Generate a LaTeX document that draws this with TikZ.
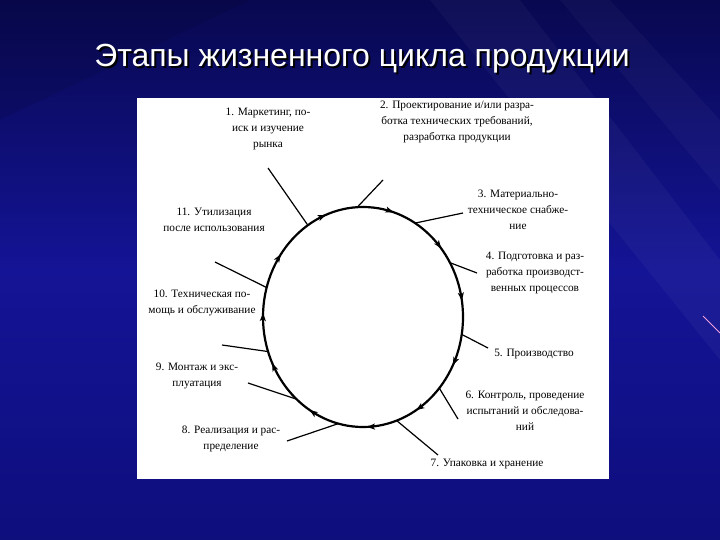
\documentclass[tikz,border=0pt]{standalone}
\usepackage{fontspec}
\setmainfont{Liberation Serif}
\newfontfamily\titlefont{Liberation Sans}
\usetikzlibrary{shapes.geometric,decorations.markings,arrows.meta}
\definecolor{bgtop}{RGB}{8,8,80}
\definecolor{bgmid}{RGB}{20,20,150}
\definecolor{bgbot}{RGB}{14,14,125}
\definecolor{pinkline}{RGB}{240,160,220}
\tikzset{cyctip/.tip={Stealth[length=8pt,width=6pt,inset=2pt]}}
\begin{document}
\begin{tikzpicture}[x=1pt,y=-1pt,
  lbl/.style={align=center,font=\fontsize{11.3}{16}\selectfont,text=black,inner sep=0pt},
  spoke/.style={draw=black,line width=1.2pt},
  cycline/.style={draw=black,line width=2.2pt,postaction={decorate},
    decoration={markings,
      mark=at position 0.075 with {\arrow{cyctip}},
      mark=at position 0.164 with {\arrow{cyctip}},
      mark=at position 0.244 with {\arrow{cyctip}},
      mark=at position 0.336 with {\arrow{cyctip}},
      mark=at position 0.428 with {\arrow{cyctip}},
      mark=at position 0.506 with {\arrow{cyctip}},
      mark=at position 0.600 with {\arrow{cyctip}},
      mark=at position 0.692 with {\arrow{cyctip}},
      mark=at position 0.797 with {\arrow{cyctip}},
      mark=at position 0.889 with {\arrow{cyctip}},
      mark=at position 0.975 with {\arrow{cyctip}}}},
  titletext/.style={font=\titlefont\fontsize{32}{36}\selectfont,inner sep=0pt}]
\useasboundingbox (0,0) rectangle (720,540);
% background
\shade[top color=bgtop,bottom color=bgbot,middle color=bgmid] (0,0) rectangle (720,540);
\fill[white,opacity=0.035] (430,0) -- (520,0) -- (720,260) -- (720,360) -- cycle;
\fill[white,opacity=0.03] (560,0) -- (610,0) -- (720,120) -- (720,190) -- cycle;
\fill[black,opacity=0.08] (0,0) -- (250,0) -- (0,120) -- cycle;
\draw[pinkline,line width=1pt] (703,316) -- (720,333);
% title
\node[titletext,text=black] (titleshadow) at (364,61) {Этапы жизненного цикла продукции};
\node[titletext,text=white] (title) at (362,59) {Этапы жизненного цикла продукции};
% panel
\fill[white] (137,98) rectangle (609,479);
% cycle
\node[ellipse,minimum width=200pt,minimum height=220pt,inner sep=0pt,outer sep=0pt] (cyc) at (363,317) {};
\path[cycline] (363,317) ellipse [x radius=100, y radius=110];
% labels
\node[lbl] (l1) at (268,129) {1. Маркетинг, по-\\иск и изучение\\рынка};
\node[lbl] (l2) at (457,122) {2. Проектирование и/или разра-\\ботка технических требований,\\разработка продукции};
\node[lbl] (l3) at (518,210) {3. Материально-\\техническое снабже-\\ние};
\node[lbl] (l4) at (535,273) {4. Подготовка и раз-\\работка производст-\\венных процессов};
\node[lbl] (l5) at (534,354) {5. Производство};
\node[lbl] (l6) at (525,411) {6. Контроль, проведение\\испытаний и обследова-\\ний};
\node[lbl] (l7) at (487,464) {7. Упаковка и хранение};
\node[lbl] (l8) at (231,439) {8. Реализация и рас-\\пределение};
\node[lbl] (l9) at (197,376) {9. Монтаж и экс-\\плуатация};
\node[lbl] (l10) at (202,303) {10. Техническая по-\\мощь и обслуживание};
\node[lbl] (l11) at (214,220) {11. Утилизация\\после использования};
% spokes
\coordinate (o1) at (268,168);
\coordinate (o2) at (383,180);
\coordinate (o3) at (463,213);
\coordinate (o4) at (477,273);
\coordinate (o5) at (488,348);
\coordinate (o6) at (458,419);
\coordinate (o7) at (438,455);
\coordinate (o8) at (287,441);
\coordinate (o9) at (248,383);
\coordinate (o10) at (222,345);
\coordinate (o11) at (215,262);
\draw[spoke] (o1) -- (cyc.121);
\draw[spoke] (o2) -- (cyc.93);
\draw[spoke] (o3) -- (cyc.61);
\draw[spoke] (o4) -- (cyc.32);
\draw[spoke] (o5) -- (cyc.-10);
\draw[spoke] (o6) -- (cyc.-43);
\draw[spoke] (o7) -- (cyc.-72);
\draw[spoke] (o8) -- (cyc.-103);
\draw[spoke] (o9) -- (cyc.-129);
\draw[spoke] (o10) -- (cyc.-160);
\draw[spoke] (o11) -- (cyc.163);
\end{tikzpicture}
\end{document}
